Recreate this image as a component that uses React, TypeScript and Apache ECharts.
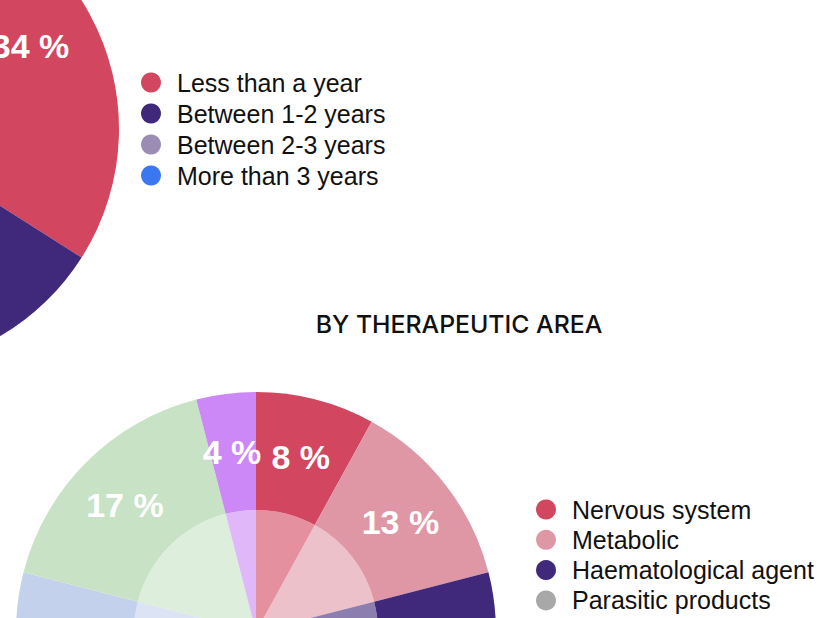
import React, { useEffect, useRef } from "react";
import * as echarts from "echarts";

const durationNames = ["Less than a year", "Between 1-2 years", "Between 2-3 years", "More than 3 years"];
const durationValues = [34, 30, 20, 16];
const durationColors = ["#d2465f", "#40287a", "#9b8cb4", "#3b77f0"];

const areaNames = [
  "Nervous system",
  "Metabolic",
  "Haematological agent",
  "Parasitic products",
  "Respiratory system",
  "Anti-infectives",
  "Dermatologicals",
];
const areaValues = [8, 13, 25, 15, 18, 17, 4];
const areaColors = ["#d2465f", "#df97a6", "#40287a", "#a8a8a8", "#c3d1ec", "#c8e2c6", "#cc88f6"];
const areaLegendNames = areaNames.slice(0, 4);

const labelFont = "'Liberation Sans', Arial, Helvetica, sans-serif";

function ringSeries(
  names: string[],
  values: number[],
  colors: string[],
  center: number[],
  inner: number,
  outer: number,
  labelOffset: number[]
) {
  const data = names.map((n, i) => ({ name: n, value: values[i], itemStyle: { color: colors[i] } }));
  return [
    {
      type: "pie",
      center,
      radius: [inner, outer],
      startAngle: 90,
      clockwise: true,
      silent: true,
      avoidLabelOverlap: false,
      itemStyle: { borderWidth: 0 },
      label: {
        show: true,
        position: "inside",
        rotate: 0,
        offset: labelOffset,
        formatter: "{c} %",
        color: "#ffffff",
        fontSize: 34,
        fontWeight: "bold",
        fontFamily: labelFont,
      },
      labelLine: { show: false },
      data,
    },
    {
      type: "pie",
      center,
      radius: [0, inner],
      startAngle: 90,
      clockwise: true,
      silent: true,
      itemStyle: { borderWidth: 0, opacity: 0.6 },
      label: { show: false },
      labelLine: { show: false },
      data,
    },
  ];
}

export default function App() {
  const ref = useRef<HTMLDivElement>(null);
  useEffect(() => {
    if (!ref.current) return;
    const chart = echarts.init(ref.current, undefined, { renderer: "svg" });
    const legendText = { color: "#111111", fontSize: 25, fontFamily: labelFont };
    chart.setOption({
      animation: false,
      backgroundColor: "#ffffff",
      title: {
        text: "BY THERAPEUTIC AREA",
        left: 454,
        textAlign: "center",
        top: 306,
        textStyle: { fontFamily: "Inter, sans-serif", fontWeight: 500, fontSize: 24.8, color: "#111111" },
      },
      legend: [
        {
          orient: "vertical",
          left: 136,
          top: 65,
          height: 200,
          itemWidth: 42,
          itemHeight: 20,
          itemGap: 6,
          icon: "circle",
          data: durationNames,
          textStyle: legendText,
          selectedMode: false,
        },
        {
          orient: "vertical",
          left: 531,
          top: 492,
          height: 200,
          itemWidth: 42,
          itemHeight: 20,
          itemGap: 5.3,
          icon: "circle",
          data: areaLegendNames,
          textStyle: legendText,
          selectedMode: false,
        },
      ],
      series: [
        ...ringSeries(durationNames, durationValues, durationColors, [-121, 129], 100, 240, [0, 0]),
        ...ringSeries(areaNames, areaValues, areaColors, [256, 632], 122, 240, [-1, 3]),
      ],
    });
    return () => chart.dispose();
  }, []);
  return <div ref={ref} style={{ position: "fixed", left: 0, top: 0, width: 828, height: 618 }} />;
}
